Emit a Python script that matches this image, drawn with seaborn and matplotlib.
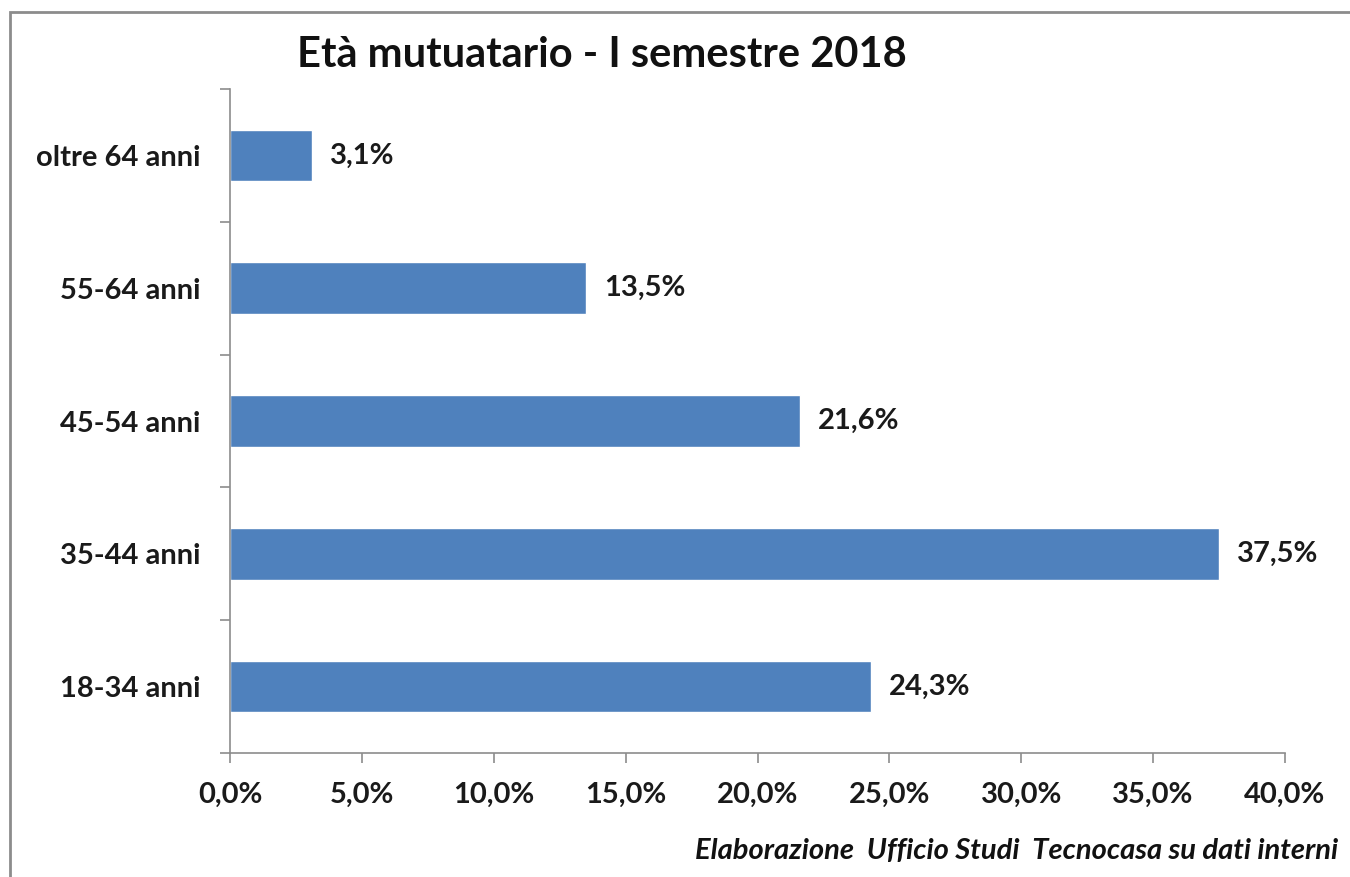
import matplotlib
matplotlib.use("Agg")
import matplotlib.pyplot as plt
import seaborn as sns
import pandas as pd
from matplotlib.ticker import FixedLocator, FuncFormatter
from matplotlib.patches import Rectangle

categories = ["oltre 64 anni", "55-64 anni", "45-54 anni", "35-44 anni", "18-34 anni"]
values = [3.1, 13.5, 21.6, 37.5, 24.3]
title = "Età mutuatario - I semestre 2018"
source = "Elaborazione  Ufficio Studi  Tecnocasa su dati interni"

sns.set_theme(style="white")
plt.rcParams['font.family'] = ['Lato', 'DejaVu Sans']

df = pd.DataFrame({"cat": categories, "val": values})

fig = plt.figure(figsize=(13.5, 8.77), dpi=100)
ax = fig.add_axes([230/1350, 1-753/877, (1285-230)/1350, (753-89)/877])

sns.barplot(data=df, x="val", y="cat", orient="h", color="#4F81BD",
            saturation=1, width=0.39, ax=ax, order=categories)

ax.set_xlim(0, 40)
ax.set_ylim(4.5, -0.5)
ax.set_xlabel("")
ax.set_ylabel("")

FS = 21
ax.set_xticks([0, 5, 10, 15, 20, 25, 30, 35, 40])
ax.xaxis.set_major_formatter(FuncFormatter(lambda v, p: f"{v:.1f}%".replace(".", ",")))
ax.tick_params(axis="x", length=7, width=1.2, color="#8c8c8c", direction="out",
               labelsize=FS, pad=14, bottom=True)
for lab in ax.get_xticklabels():
    lab.set_fontweight("bold")
    lab.set_color("#1a1a1a")

ax.tick_params(axis="y", which="major", length=0, pad=21, labelsize=FS)
ax.yaxis.set_minor_locator(FixedLocator([-0.5, 0.5, 1.5, 2.5, 3.5, 4.5]))
ax.tick_params(axis="y", which="minor", length=7, width=1.2, color="#8c8c8c",
               direction="out", left=True)
for lab in ax.get_yticklabels():
    lab.set_fontweight("bold")
    lab.set_color("#1a1a1a")

for s in ["top", "right"]:
    ax.spines[s].set_visible(False)
for s in ["left", "bottom"]:
    ax.spines[s].set_color("#8c8c8c")
    ax.spines[s].set_linewidth(1.2)

for i, v in enumerate(values):
    ax.annotate(f"{v:.1f}%".replace(".", ","), xy=(v, i), xytext=(18, 0),
                textcoords="offset pixels",
                va="center", ha="left", fontsize=FS, fontweight="bold", color="#1a1a1a")

fig.text(297/1350, 1-55/877, title, ha="left", va="center", fontsize=30,
         fontweight="bold", color="#111111")
fig.text(1338/1350, 1-851/877, source, ha="right", va="center", fontsize=21,
         fontweight="bold", fontstyle="italic", color="#111111")

fig.patches.append(Rectangle((10/1350, -0.1), 1.2, 1 - 12/877 + 0.1,
                             transform=fig.transFigure, fill=False,
                             edgecolor="#8c8c8c", linewidth=2))

fig.savefig("out.png", dpi=100)
